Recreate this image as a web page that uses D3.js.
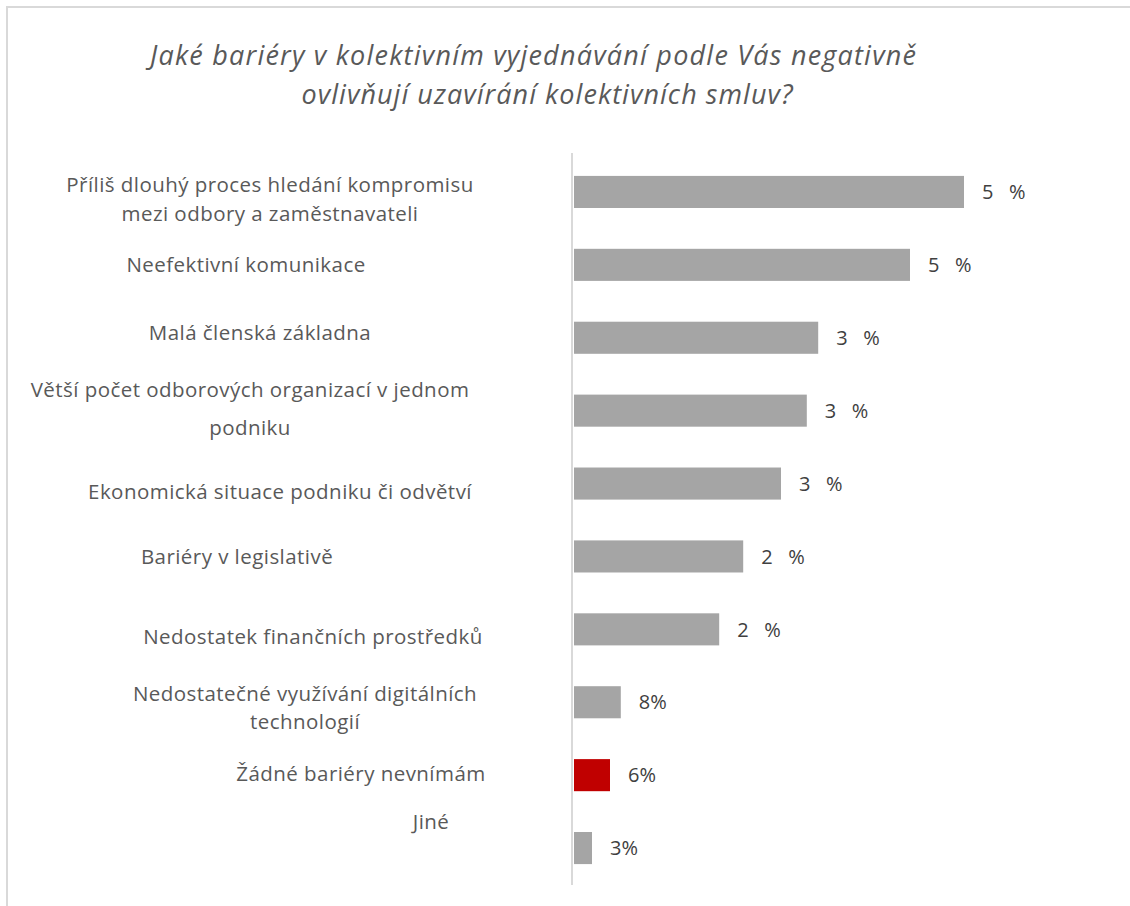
<!DOCTYPE html>
<html>
<head>
<meta charset="utf-8">
<script src="https://cdn.jsdelivr.net/npm/d3@7"></script>
<style>
  body { margin: 0; background: #fff; }
  svg { display: block; }
</style>
</head>
<body>
<svg width="1130" height="906"></svg>
<script>
const categories = [
  ["Příliš dlouhý proces hledání kompromisu", "mezi odbory a zaměstnavateli"],
  ["Neefektivní komunikace"],
  ["Malá členská základna"],
  ["Větší počet odborových organizací v jednom", "podniku"],
  ["Ekonomická situace podniku či odvětví"],
  ["Bariéry v legislativě"],
  ["Nedostatek finančních prostředků"],
  ["Nedostatečné využívání digitálních", "technologií"],
  ["Žádné bariéry nevnímám"],
  ["Jiné"],
];
const values = [65, 56, 40.7, 38.8, 34.5, 28.2, 24.2, 7.8, 6, 3];
const valueLabels = ["5 %", "5 %", "3 %", "3 %", "3 %", "2 %", "2 %", "8%", "6%", "3%"];
const highlighted = [false, false, false, false, false, false, false, false, true, false];
const title = [
  "Jaké bariéry v kolektivním vyjednávání podle Vás negativně",
  "ovlivňují uzavírání kolektivních smluv?",
];

// hand placed text boxes in the original: centre x, shift y, line gap
const labelLayout = [
  [270, 7, 29], [246, 0, 29], [260, -5, 29], [250, -2, 38], [280, 8, 29],
  [237, 0, 29], [313, 7, 29], [305, 6, 28], [361, -1, 29], [431, -26, 29],
];

const svg = d3.select("svg");

// frame, cut off at right and bottom like the screenshot
svg.append("rect")
  .attr("x", 7).attr("y", 7)
  .attr("width", 1140).attr("height", 920)
  .attr("fill", "none")
  .attr("stroke", "#d9d9d9")
  .attr("stroke-width", 2);

svg.append("g")
  .selectAll("text")
  .data(title)
  .join("text")
  .attr("x", (d, i) => (i === 0 ? 533 : 547))
  .attr("y", (d, i) => 65 + i * 39)
  .attr("text-anchor", "middle")
  .attr("font-family", "Open Sans")
  .attr("font-style", "italic")
  .attr("font-size", 27)
  .attr("fill", "#595959")
  .attr("textLength", (d, i) => (i === 0 ? 766 : 491))
  .attr("lengthAdjust", "spacing")
  .text((d) => d);

const x = d3.scaleLinear().domain([0, 100]).range([574, 1174]);
const y = d3.scaleBand()
  .domain(d3.range(categories.length))
  .range([155.5, 884.5])
  .paddingInner(0.56)
  .paddingOuter(0.28);

svg.append("g")
  .selectAll("rect")
  .data(values)
  .join("rect")
  .attr("x", x(0))
  .attr("y", (d, i) => y(i))
  .attr("width", (d) => x(d) - x(0))
  .attr("height", y.bandwidth())
  .attr("fill", (d, i) => (highlighted[i] ? "#c00000" : "#a5a5a5"));

svg.append("line")
  .attr("x1", 572).attr("x2", 572)
  .attr("y1", 153).attr("y2", 885)
  .attr("stroke", "#d9d9d9")
  .attr("stroke-width", 2);

svg.append("g")
  .selectAll("text")
  .data(values)
  .join("text")
  .attr("x", (d) => x(d) + 18)
  .attr("y", (d, i) => y(i) + y.bandwidth() / 2)
  .attr("dy", "0.36em")
  .attr("font-family", "Open Sans")
  .attr("font-size", 20)
  .attr("fill", "#404040")
  .style("white-space", "pre")
  .text((d, i) => valueLabels[i].replace(" ", "   "));

const labels = svg.append("g")
  .selectAll("text")
  .data(categories)
  .join("text")
  .attr("text-anchor", "middle")
  .attr("font-family", "Open Sans")
  .attr("font-size", 20.5)
  .attr("letter-spacing", 0.45)
  .attr("fill", "#595959")
  .attr("transform", (d, i) => {
    const [cx, dy, gap] = labelLayout[i];
    const top = y(i) + y.bandwidth() / 2 + dy - ((d.length - 1) * gap) / 2;
    return `translate(${cx},${top})`;
  });

labels.selectAll("tspan")
  .data((d, i) => d.map((line) => ({ line, gap: labelLayout[i][2] })))
  .join("tspan")
  .attr("x", 0)
  .attr("y", (d, j) => j * d.gap)
  .attr("dy", "0.35em")
  .text((d) => d.line);
</script>
</body>
</html>
